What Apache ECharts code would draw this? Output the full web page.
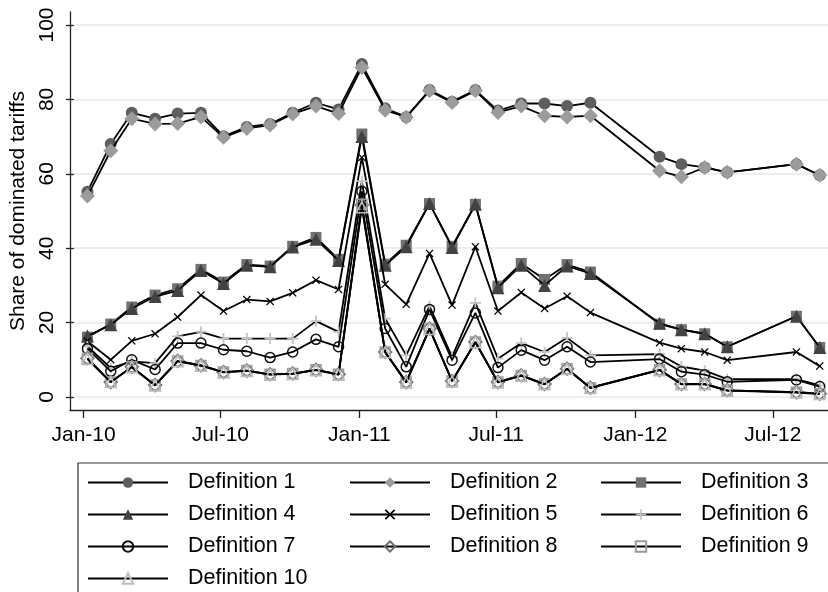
<!DOCTYPE html>
<html>
<head>
<meta charset="utf-8">
<script src="https://cdn.jsdelivr.net/npm/echarts@6/dist/echarts.min.js"></script>
<style>
  html, body { margin: 0; padding: 0; background: #fff; }
  #chart { width: 828px; height: 592px; }
</style>
</head>
<body>
<div id="chart"></div>
<script>
// Survey months (monthly, with gaps in Dec-11/Jan-12 and Jun/Jul-12)
const months = [
  '2010-01-01','2010-02-01','2010-03-01','2010-04-01','2010-05-01','2010-06-01',
  '2010-07-01','2010-08-01','2010-09-01','2010-10-01','2010-11-01','2010-12-01',
  '2011-01-01','2011-02-01','2011-03-01','2011-04-01','2011-05-01','2011-06-01',
  '2011-07-01','2011-08-01','2011-09-01','2011-10-01','2011-11-01',
  '2012-02-01','2012-03-01','2012-04-01','2012-05-01','2012-08-01','2012-09-01'
];

// Share of dominated tariffs (%) under each definition
const def1  = [55.2, 68.0, 76.4, 74.8, 76.2, 76.4, 70.1, 72.6, 73.4, 76.4, 79.1, 77.3, 89.5, 77.6, 75.3, 82.5, 79.4, 82.5, 77.0, 78.9, 78.9, 78.2, 79.1, 64.6, 62.6, 61.7, 60.4, 62.6, 59.6];
const def2  = [54.0, 66.2, 74.8, 73.4, 73.5, 75.3, 69.8, 72.2, 73.1, 76.1, 78.2, 76.2, 88.6, 77.1, 75.2, 82.3, 79.2, 82.3, 76.5, 78.2, 75.6, 75.3, 75.6, 60.8, 59.2, 61.7, 60.4, 62.6, 59.6];
const def3  = [16.1, 19.6, 24.2, 27.4, 29.1, 34.3, 30.9, 35.6, 35.2, 40.5, 42.9, 37.0, 70.7, 35.7, 40.8, 52.0, 40.5, 51.8, 29.8, 35.9, 31.6, 35.6, 33.6, 19.6, 18.1, 17.0, 13.5, 21.7, 13.3];
const def4  = [16.4, 19.4, 23.8, 27.0, 28.6, 34.0, 30.5, 35.4, 35.0, 40.3, 42.4, 36.7, 70.0, 35.4, 40.4, 52.0, 40.2, 51.8, 29.4, 35.4, 30.0, 35.2, 33.2, 19.8, 18.1, 17.0, 13.5, 21.7, 13.3];
const def5  = [15.0, 10.0, 15.1, 17.0, 21.5, 27.4, 23.1, 26.2, 25.7, 28.0, 31.4, 28.9, 64.4, 30.3, 24.9, 38.6, 24.7, 40.4, 23.1, 28.1, 23.8, 27.1, 22.7, 14.6, 13.0, 12.1,  9.9, 12.1,  8.3];
const def6  = [13.6,  7.8,  9.6,  9.1, 16.3, 17.5, 15.7, 15.7, 15.7, 15.7, 20.4, 17.5, 58.0, 21.1, 11.2, 24.4, 10.8, 25.3, 10.3, 14.5, 12.1, 15.9, 11.2, 11.5,  8.2,  7.1,  4.8,  4.8,  3.1];
const def7  = [13.0,  6.9, 10.0,  7.4, 14.5, 14.5, 12.7, 12.3, 10.6, 12.1, 15.5, 13.5, 55.3, 18.4,  8.1, 23.5,  9.9, 22.6,  7.9, 12.6,  9.9, 13.5,  9.4, 10.2,  6.8,  6.0,  4.1,  4.6,  2.8];
const def8  = [10.4,  4.0,  8.1,  3.2,  9.7,  8.5,  6.7,  7.1,  6.1,  6.3,  7.3,  6.1, 51.6, 12.1,  4.0, 18.4,  4.3, 14.8,  4.0,  5.8,  3.5,  7.6,  2.5,  7.3,  3.5,  3.5,  1.8,  1.3,  0.9];
const def9  = [10.4,  4.0,  8.1,  3.2,  9.7,  8.5,  6.7,  7.1,  6.1,  6.3,  7.3,  6.1, 51.8, 12.1,  4.0, 18.4,  4.3, 14.8,  4.0,  5.8,  3.5,  7.6,  2.5,  7.3,  3.5,  3.5,  1.8,  1.3,  0.9];
const def10 = [10.2,  4.0,  8.0,  3.1,  9.6,  8.4,  6.6,  7.0,  6.0,  6.2,  7.2,  6.0, 51.0, 12.0,  3.9, 18.3,  4.2, 14.7,  3.9,  5.7,  3.4,  7.5,  2.4,  7.2,  3.4,  3.4,  1.7,  1.2,  0.8];

const seriesNames = ['Definition 1','Definition 2','Definition 3','Definition 4','Definition 5',
                     'Definition 6','Definition 7','Definition 8','Definition 9','Definition 10'];

// x-axis tick dates
const xTickDates = ['2010-01-01','2010-07-01','2011-01-01','2011-07-01','2012-01-01','2012-07-01'];
const monthAbbr = ['Jan','Feb','Mar','Apr','May','Jun','Jul','Aug','Sep','Oct','Nov','Dec'];

function toTime(s) {
  const p = s.split('-').map(Number);
  return Date.UTC(p[0], p[1] - 1, p[2]);
}
const xMin = toTime('2009-12-14');
const xMax = toTime('2012-09-12');
const xTickValues = xTickDates.map(toTime);
const monthTimes = months.map(toTime);

const FONT = '"Liberation Sans", Arial, Helvetica, sans-serif';
const FS = 21;

// marker shapes
const PLUS = 'path://M4.2,0H5.8V4.2H10V5.8H5.8V10H4.2V5.8H0V4.2H4.2Z';
const CROSS = 'path://M1.1,0L5,3.9L8.9,0L10,1.1L6.1,5L10,8.9L8.9,10L5,6.1L1.1,10L0,8.9L3.9,5L0,1.1Z';

const styles = [
  { data: def1,  symbol: 'circle',   size: 12, fill: '#5e5e5e' },
  { data: def2,  symbol: 'diamond',  size: 15, fill: '#9b9b9b' },
  { data: def3,  symbol: 'rect',     size: 11, fill: '#717171' },
  { data: def4,  symbol: 'triangle', size: 13, fill: '#424242' },
  { data: def5,  symbol: CROSS,      size: 8,  fill: '#000000' },
  { data: def6,  symbol: PLUS,       size: 11, fill: '#c2c2c2' },
  { data: def7,  symbol: 'circle',   size: 10, fill: 'rgba(0,0,0,0)', border: '#111111' },
  { data: def8,  symbol: 'diamond',  size: 13, fill: 'rgba(0,0,0,0)', border: '#6e6e6e' },
  { data: def9,  symbol: 'rect',     size: 10, fill: 'rgba(0,0,0,0)', border: '#9a9a9a' },
  { data: def10, symbol: 'triangle', size: 11, fill: 'rgba(0,0,0,0)', border: '#bdbdbd' }
];

const series = styles.map((s, i) => ({
  name: seriesNames[i],
  type: 'line',
  xAxisIndex: 0,
  yAxisIndex: 0,
  data: monthTimes.map((t, k) => [t, s.data[k]]),
  symbol: s.symbol,
  symbolSize: s.size,
  showAllSymbol: true,
  lineStyle: { color: '#000', width: 1.8 },
  itemStyle: s.border
    ? { color: s.fill, borderColor: s.border, borderWidth: 1.5, opacity: 1 }
    : { color: s.fill, borderWidth: 0, opacity: 1 },
  emphasis: { disabled: true },
  z: 2 + i
}));

function legendColumn(names, left) {
  return {
    data: names,
    orient: 'vertical',
    left: left,
    top: 471,
    padding: 0,
    height: 200,
    itemWidth: 80,
    itemHeight: 13,
    itemGap: 9,
    selectedMode: false,
    textStyle: { fontFamily: FONT, fontSize: 21.5, color: '#000', lineHeight: 23, padding: [0, 0, 0, 15] }
  };
}

function fmtMonth(v) {
  const d = new Date(v);
  return monthAbbr[d.getUTCMonth()] + '-' + String(d.getUTCFullYear() % 100).padStart(2, '0');
}

const chart = echarts.init(document.getElementById('chart'), null, { renderer: 'canvas' });
chart.setOption({
  animation: false,
  backgroundColor: '#fff',
  grid: [
    { left: 70, right: 0, top: 25, bottom: 195 },
    { left: 70, right: 0, top: 12, bottom: 182 }
  ],
  xAxis: [
    { type: 'value', gridIndex: 0, min: xMin, max: xMax, show: false, splitLine: { show: false } },
    {
      type: 'value', gridIndex: 1, min: xMin, max: xMax,
      axisLine: { show: true, lineStyle: { color: '#222', width: 1.3 } },
      axisTick: { show: true, length: 8, customValues: xTickValues, lineStyle: { color: '#222', width: 1.3 } },
      axisLabel: {
        customValues: xTickValues,
        margin: 15,
        fontFamily: FONT, fontSize: FS, color: '#000',
        formatter: fmtMonth
      },
      splitLine: { show: false }
    }
  ],
  yAxis: [
    {
      type: 'value', gridIndex: 0, min: 0, max: 100, interval: 20,
      axisLine: { show: false },
      axisTick: { show: true, length: 8, lineStyle: { color: '#222', width: 1.3 } },
      axisLabel: {
        rotate: 90, margin: 16,
        fontFamily: FONT, fontSize: FS, color: '#000'
      },
      splitLine: { show: true, lineStyle: { color: '#e8e8e8', width: 1.5 } },
      name: 'Share of dominated tariffs',
      nameLocation: 'middle',
      nameGap: 34,
      nameTextStyle: { fontFamily: FONT, fontSize: FS, color: '#000' }
    },
    {
      type: 'value', gridIndex: 1, min: 0, max: 1,
      axisLine: { show: true, lineStyle: { color: '#222', width: 1.3 } },
      axisTick: { show: false },
      axisLabel: { show: false },
      splitLine: { show: false }
    }
  ],
  legend: [
    legendColumn(['Definition 1', 'Definition 4', 'Definition 7', 'Definition 10'], 87),
    legendColumn(['Definition 2', 'Definition 5', 'Definition 8'], 349),
    legendColumn(['Definition 3', 'Definition 6', 'Definition 9'], 600)
  ],
  graphic: [{
    type: 'rect',
    shape: { x: 78, y: 463, width: 780, height: 160 },
    style: { fill: 'none', stroke: '#333', lineWidth: 1.2 },
    silent: true
  }],
  series: series
});
</script>
</body>
</html>
